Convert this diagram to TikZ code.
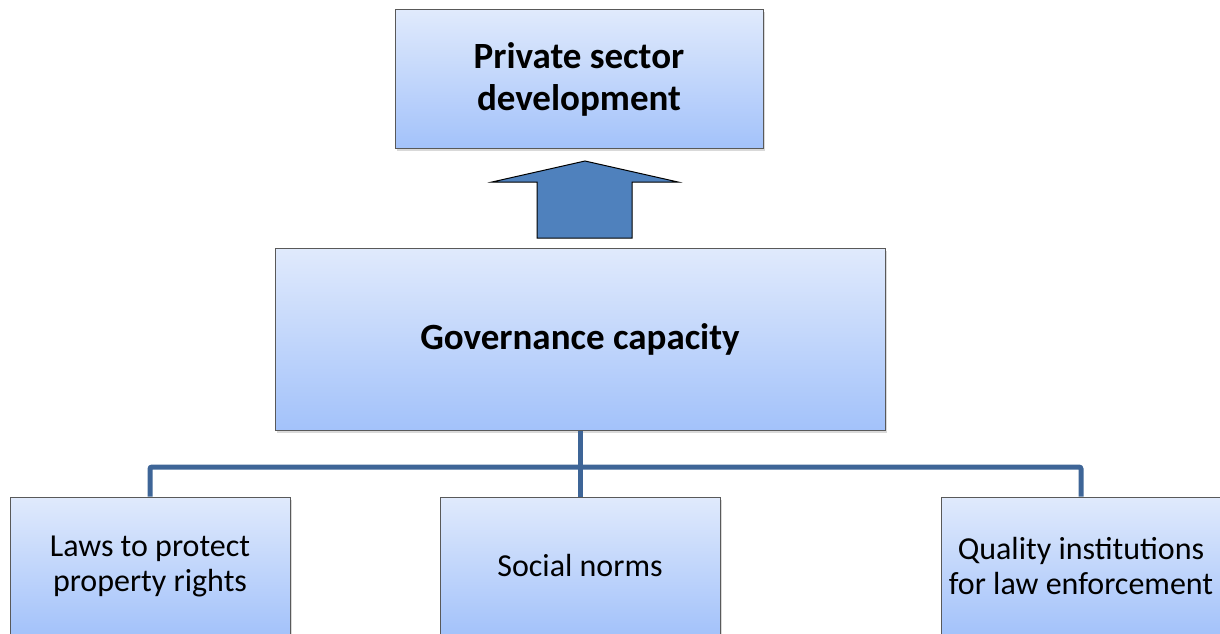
\documentclass[tikz,border=0pt]{standalone}
\usepackage{fontspec}
\setmainfont{Carlito}
\usetikzlibrary{shadows}

\definecolor{boxtop}{RGB}{224,234,252}
\definecolor{boxbottom}{RGB}{163,194,250}
\definecolor{linkblue}{RGB}{62,101,151}
\definecolor{arrowblue}{RGB}{79,129,189}

\tikzset{
  box/.style={draw=black!65, line width=1pt, top color=boxtop, bottom color=boxbottom,
    inner sep=0pt, align=center,
    drop shadow={shadow xshift=2pt, shadow yshift=-2.5pt, fill=black!60, opacity=0.25}},
  headbox/.style={box, font=\fontsize{37}{42}\selectfont\bfseries},
  factorbox/.style={box, minimum width=280, minimum height=138, font=\fontsize{32}{35}\selectfont},
  link/.style={draw=linkblue, line width=5pt, rounded corners=2pt},
  uparrow/.style={draw=black, line width=1pt, fill=arrowblue, line join=miter}
}

\begin{document}
\begin{tikzpicture}[x=1pt, y=-1pt]
\useasboundingbox (0,0) rectangle (1220,634);

% goal and main box
\node[headbox, minimum width=368, minimum height=138] (psd) at (579,79) {Private sector\\development};
\node[headbox, minimum width=610, minimum height=182] (gov) at (580,339) {Governance capacity};

% block arrow between them
\draw[uparrow] (537,238) -- (537,182) -- (492,182) -- (585,161) -- (678,182) -- (632,182) -- (632,238) -- cycle;

% the three factors
\node[factorbox] (laws) at (150,566) {Laws to protect\\property rights};
\node[factorbox] (norms) at (580,566) {Social norms};
\node[factorbox] (quality) at (1081,566) {Quality institutions\\for law enforcement};

\coordinate (bus) at (580,467);
\draw[link] (gov.south) -- (norms.north);
\draw[link] (laws.north) |- (bus) -| (quality.north);
\end{tikzpicture}
\end{document}
